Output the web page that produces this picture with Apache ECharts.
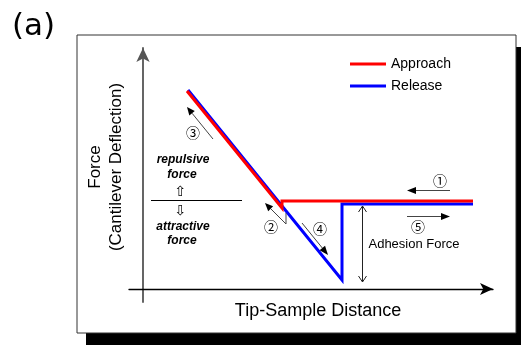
<!DOCTYPE html>
<html><head><meta charset="utf-8">
<script src="https://cdn.jsdelivr.net/npm/echarts@6/dist/echarts.min.js"></script>
<style>html,body{margin:0;padding:0;background:#fff}#c{width:521px;height:345px}</style>
</head><body><div id="c"></div>
<script>
// Values (arbitrary units: distance, force; origin at axes crossing)
const seriesNames = ['Approach', 'Release'];
const approachX = [330, 139, 139, 44];
const approachY = [88, 88, 81, 198];
const releaseX = [45, 199, 199, 330];
const releaseY = [199, 9, 85, 85];
const xRange = [-14, 350];
const yRange = [-13, 241];
const xName = 'Tip-Sample Distance';
const yNameLines = ['Force', '(Cantilever Deflection)'];

const zip = (xs, ys) => xs.map((x, i) => [x, ys[i]]);
const SANS = '"Liberation Sans", Arial, sans-serif';
const CJK = '"Noto Sans CJK JP", "DejaVu Sans", sans-serif';

function arrowHead(tx, ty, fx, fy, L, w) {
  const dx = tx - fx, dy = ty - fy, d = Math.hypot(dx, dy);
  const ux = dx / d, uy = dy / d, px = -uy, py = ux;
  const bx = tx - ux * L, by = ty - uy * L;
  return {
    base: [bx, by],
    el: { type: 'polygon', z: 10, shape: { points: [[tx, ty], [bx + px * w, by + py * w], [bx - px * w, by - py * w]] }, style: { fill: '#000' } }
  };
}
function arrow(points, L, w) {
  const n = points.length;
  const h = arrowHead(points[n - 1][0], points[n - 1][1], points[n - 2][0], points[n - 2][1], L || 9, w || 3.5);
  const pts = points.slice(0, n - 1).concat([h.base]);
  return [
    { type: 'polyline', z: 10, shape: { points: pts }, style: { stroke: '#444', lineWidth: 1, fill: null } },
    h.el
  ];
}
function txt(x, y, text, font, rot) {
  return { type: 'text', z: 10, x, y, rotation: rot || 0, style: { x: 0, y: 0, text, font, fill: '#000', textAlign: 'center', textVerticalAlign: 'middle', align: 'center', verticalAlign: 'middle' } };
}

const graphics = [
  { type: 'rect', z: -20, shape: { x: 86, y: 47, width: 440, height: 310 }, style: { fill: '#000' } },
  { type: 'rect', z: -19, shape: { x: 77, y: 35, width: 439, height: 298 }, style: { fill: '#fff', stroke: '#333', lineWidth: 1 } },
  { type: 'text', z: 10, style: { x: 12, y: 27, text: '(a)', font: '31px "DejaVu Sans", sans-serif', fill: '#000', textVerticalAlign: 'middle', verticalAlign: 'middle' } },
  txt(95, 167, yNameLines[0], '17px ' + SANS, Math.PI / 2),
  txt(116, 167, yNameLines[1], '17px ' + SANS, Math.PI / 2),
  // separator between repulsive / attractive
  { type: 'line', z: 10, shape: { x1: 151, y1: 200.5, x2: 242, y2: 200.5 }, style: { stroke: '#000', lineWidth: 1 } },
  txt(183, 160, 'repulsive', 'italic bold 12px ' + SANS),
  txt(182, 175, 'force', 'italic bold 12px ' + SANS),
  txt(180, 192, '⇧', '14px "DejaVu Sans", sans-serif'),
  txt(180, 211, '⇩', '14px "DejaVu Sans", sans-serif'),
  txt(183, 227, 'attractive', 'italic bold 12px ' + SANS),
  txt(182, 241, 'force', 'italic bold 12px ' + SANS),
  txt(193, 133, '③', '14px ' + CJK),
  txt(271, 227, '②', '14px ' + CJK),
  txt(320, 229, '④', '14px ' + CJK),
  txt(440, 181, '①', '14px ' + CJK),
  txt(418, 227, '⑤', '14px ' + CJK),
  txt(414, 244, 'Adhesion Force', '13px ' + SANS),
  ...arrow([[213, 139], [187, 107]], 8, 3.5),
  ...arrow([[286, 213], [286, 224], [265, 203]], 8, 3.5),
  ...arrow([[302, 223], [328, 255]], 9, 3.5),
  ...arrow([[450, 190.5], [407, 190.5]], 9, 3.5),
  ...arrow([[407, 216.5], [450, 216.5]], 9, 3.5),
  { type: 'polyline', z: 10, shape: { points: [[362.5, 206], [362.5, 282]] }, style: { stroke: '#222', lineWidth: 1, fill: null } },
  { type: 'polyline', z: 10, shape: { points: [[358.5, 212], [362.5, 206], [366.5, 212]] }, style: { stroke: '#222', lineWidth: 1, fill: null } },
  { type: 'polyline', z: 10, shape: { points: [[358.5, 276], [362.5, 282], [366.5, 276]] }, style: { stroke: '#222', lineWidth: 1, fill: null } }
];

const chart = echarts.init(document.getElementById('c'), null, { renderer: 'canvas' });
chart.setOption({
  animation: false,
  backgroundColor: '#fff',
  grid: { left: 129, right: 28, top: 48, bottom: 43 },
  legend: {
    data: seriesNames,
    orient: 'vertical',
    left: 345, top: 52,
    icon: 'rect', itemWidth: 36, itemHeight: 3, itemGap: 8,
    textStyle: { fontFamily: SANS, fontSize: 14, color: '#000', lineHeight: 14 }
  },
  xAxis: {
    type: 'value', min: xRange[0], max: xRange[1],
    name: xName, nameLocation: 'middle', nameGap: 0,
    nameTextStyle: { fontFamily: SANS, fontSize: 18, color: '#000', padding: [0, 0, 0, 14] },
    axisLine: { onZero: true, lineStyle: { color: '#000', width: 1.3 }, symbol: ['none', 'arrow'], symbolSize: [9, 13] },
    axisTick: { show: false }, axisLabel: { show: false }, splitLine: { show: false }
  },
  yAxis: {
    type: 'value', min: yRange[0], max: yRange[1],
    axisLine: { onZero: true, lineStyle: { color: '#555', width: 1.8 }, symbol: ['none', 'arrow'], symbolSize: [10, 14] },
    axisTick: { show: false }, axisLabel: { show: false }, splitLine: { show: false }
  },
  series: [
    { name: seriesNames[1], type: 'line', data: zip(releaseX, releaseY), symbol: 'none', z: 2,
      lineStyle: { color: '#0000ff', width: 3, cap: 'butt', join: 'miter' }, itemStyle: { color: '#0000ff' } },
    { name: seriesNames[0], type: 'line', data: zip(approachX, approachY), symbol: 'none', z: 3,
      lineStyle: { color: '#ff0000', width: 3, cap: 'butt', join: 'miter' }, itemStyle: { color: '#ff0000' } }
  ],
  graphic: { elements: graphics }
});
</script></body></html>
